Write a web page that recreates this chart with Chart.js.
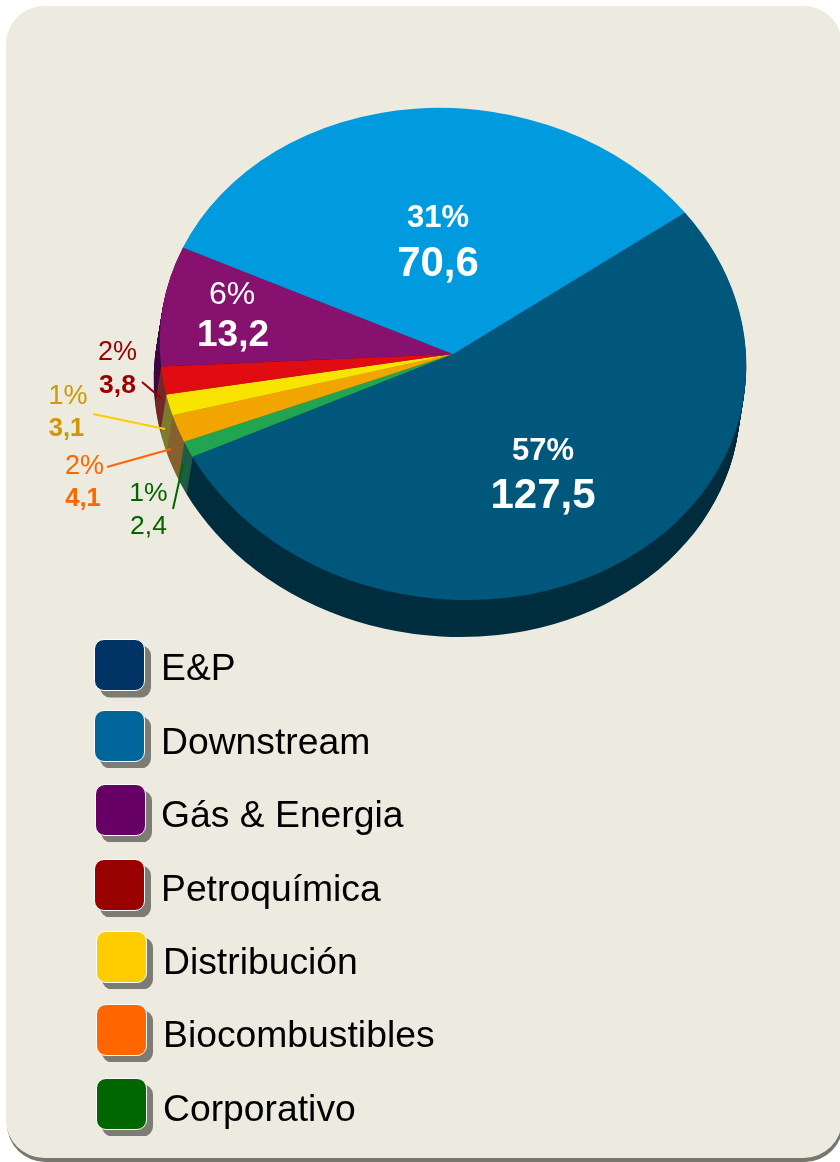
<!DOCTYPE html>
<html><head><meta charset="utf-8">
<script src="https://cdn.jsdelivr.net/npm/chart.js@4"></script>
<style>
html,body{margin:0;padding:0;background:#fff;width:840px;height:1162px;overflow:hidden;font-family:"Liberation Sans",Arial,sans-serif}
#panel{position:absolute;left:6px;top:6px;width:836px;height:1152px;background:#edeae0;border-radius:38px;box-shadow:1px 4px 0 #77776f}
#c{position:absolute;left:0;top:0}
.sw{position:absolute;width:49.5px;height:49.5px;box-sizing:content-box;border:1.5px solid #fff;border-radius:10px;box-shadow:6px 6.5px 0 #7c7c74}
.tx{position:absolute;font-size:37.3px;line-height:44px;color:#000;white-space:nowrap}
</style></head><body>
<div id="panel"></div>
<canvas id="c" width="840" height="1162"></canvas>
<script>
// ---- data, in legend order
const categories = ['E&P','Downstream','Gás & Energia','Petroquímica','Distribución','Biocombustibles','Corporativo'];
const values     = [127.5, 70.6, 13.2, 3.8, 3.1, 4.1, 2.4];
const percents   = ['57%','31%','6%','2%','1%','2%','1%'];
const legendColors = ['#003366','#006699','#660066','#990000','#ffcc00','#ff6600','#006600'];
const topColors    = ['#00577c','#009bdf','#87116e','#e00c12','#f9e400','#f2a500','#22a550'];
const sideColors   = ['#002e3f','#006a99','#3f0a40','#742a2a','#7d7c2f','#86612e','#1d5c45'];

// ---- styling / layout
const clockwise = [0,6,5,4,3,2,1];
const rotationDeg = 54.9, squash = 0.84, skew = 0.055, depth = 37, driftX = -6;
const legendBoxes = [[93.5,639],[93.5,710],[94.5,784],[93.5,859],[95.5,931],[95.5,1004],[95.5,1078]];
const legendTextX = [161,161,161,161,163,163,163];
const legendTextY = [667,741,814,888,961,1034,1108];
const pctStyle = [
 {x:543,y:451,font:'bold 31px',color:'#fff'},{x:438,y:218,font:'bold 31px',color:'#fff'},
 {x:232,y:295,font:'32px',color:'#fff'},{x:117.5,y:353,font:'27px',color:'#990000'},
 {x:68,y:397,font:'27px',color:'#cc9900'},{x:84.5,y:467,font:'27px',color:'#ff6600'},
 {x:148.5,y:494,font:'26.5px',color:'#006600'}];
const valStyle = [
 {x:543,y:496,font:'bold 42px',color:'#fff'},{x:438,y:264,font:'bold 42px',color:'#fff'},
 {x:233,y:336,font:'bold 37px',color:'#fff'},{x:117.5,y:386,font:'bold 26.5px',color:'#990000'},
 {x:66.5,y:429,font:'bold 25.5px',color:'#cc9900'},{x:83,y:499,font:'bold 25.5px',color:'#ff6600'},
 {x:148.5,y:527,font:'26.5px',color:'#006600'}];
const leaders = [
 [142,382,161,398,'#990000'],[93,414,165,429,'#ffcc00'],[107,467,171,449,'#ff6600'],[173,509,183,464,'#006600']];

// legend
legendBoxes.forEach((b,i)=>{
  const s=document.createElement('div');s.className='sw';s.style.left=b[0]+'px';s.style.top=b[1]+'px';s.style.background=legendColors[i];document.body.appendChild(s);
  const t=document.createElement('div');t.className='tx';t.textContent=categories[i];t.style.left=legendTextX[i]+'px';t.style.top=(legendTextY[i]-22)+'px';document.body.appendChild(t);
});

// the reference's 3-D view foreshortens the left side of the pie
function view(a){
  const d=a*180/Math.PI; let s;
  if(d<=220){const k=Math.sin(d/220*Math.PI/2);s=k*k;}
  else if(d<270){const k=Math.cos((d-220)/50*Math.PI/2);s=k*k;}
  else s=0;
  return (d-14*s)*Math.PI/180;
}
const pie3d = {
  id:'pie3d',
  afterDatasetsUpdate(chart){
    const base=-Math.PI/2+rotationDeg*Math.PI/180;
    chart.getDatasetMeta(0).data.forEach(arc=>{
      const s=base+view(arc.startAngle-base), e=base+view(arc.endAngle-base);
      arc.startAngle=s;arc.endAngle=e;arc.circumference=e-s;
    });
  },
  beforeDatasetsDraw(chart){
    const ctx=chart.ctx, arcs=chart.getDatasetMeta(0).data, sides=chart.data.datasets[0].sideColor;
    const cx=arcs[0].x, cy=arcs[0].y;
    const frame=(dx,dy)=>{ctx.translate(cx+dx,cy+dy);ctx.transform(1,0,skew,1,0,0);ctx.scale(1,squash);ctx.translate(-cx,-cy);};
    for(let t=depth;t>=1;t--){
      ctx.save();frame(driftX*t/depth,t);
      arcs.forEach((arc,i)=>{
        const o=arc.options;arc.options=Object.assign({},o,{backgroundColor:sides[i]});
        arc.draw(ctx);arc.options=o;
      });
      ctx.restore();
    }
    ctx.save();frame(0,0);
  },
  afterDatasetsDraw(chart){chart.ctx.restore();},
  afterDraw(chart){
    const ctx=chart.ctx;ctx.save();
    leaders.forEach(l=>{ctx.strokeStyle=l[4];ctx.lineWidth=2;ctx.beginPath();ctx.moveTo(l[0],l[1]);ctx.lineTo(l[2],l[3]);ctx.stroke();});
    ctx.textAlign='center';ctx.textBaseline='middle';
    const put=(txt,s)=>{ctx.font=s.font+' "Liberation Sans",Arial,sans-serif';ctx.fillStyle=s.color;ctx.fillText(txt,s.x,s.y);};
    values.forEach((v,i)=>{put(percents[i],pctStyle[i]);put(v.toFixed(1).replace('.',','),valStyle[i]);});
    ctx.restore();
  }
};

new Chart(document.getElementById('c'),{
  type:'pie',
  data:{
    labels:clockwise.map(i=>categories[i]),
    datasets:[{
      data:clockwise.map(i=>values[i]),
      backgroundColor:clockwise.map(i=>topColors[i]),
      sideColor:clockwise.map(i=>sideColors[i]),
      borderWidth:0,clip:false
    }]
  },
  options:{
    responsive:false,animation:false,rotation:rotationDeg,
    layout:{padding:{left:160,right:94,top:61,bottom:515}},
    plugins:{legend:{display:false},tooltip:{enabled:false}}
  },
  plugins:[pie3d]
});
</script>
</body></html>
